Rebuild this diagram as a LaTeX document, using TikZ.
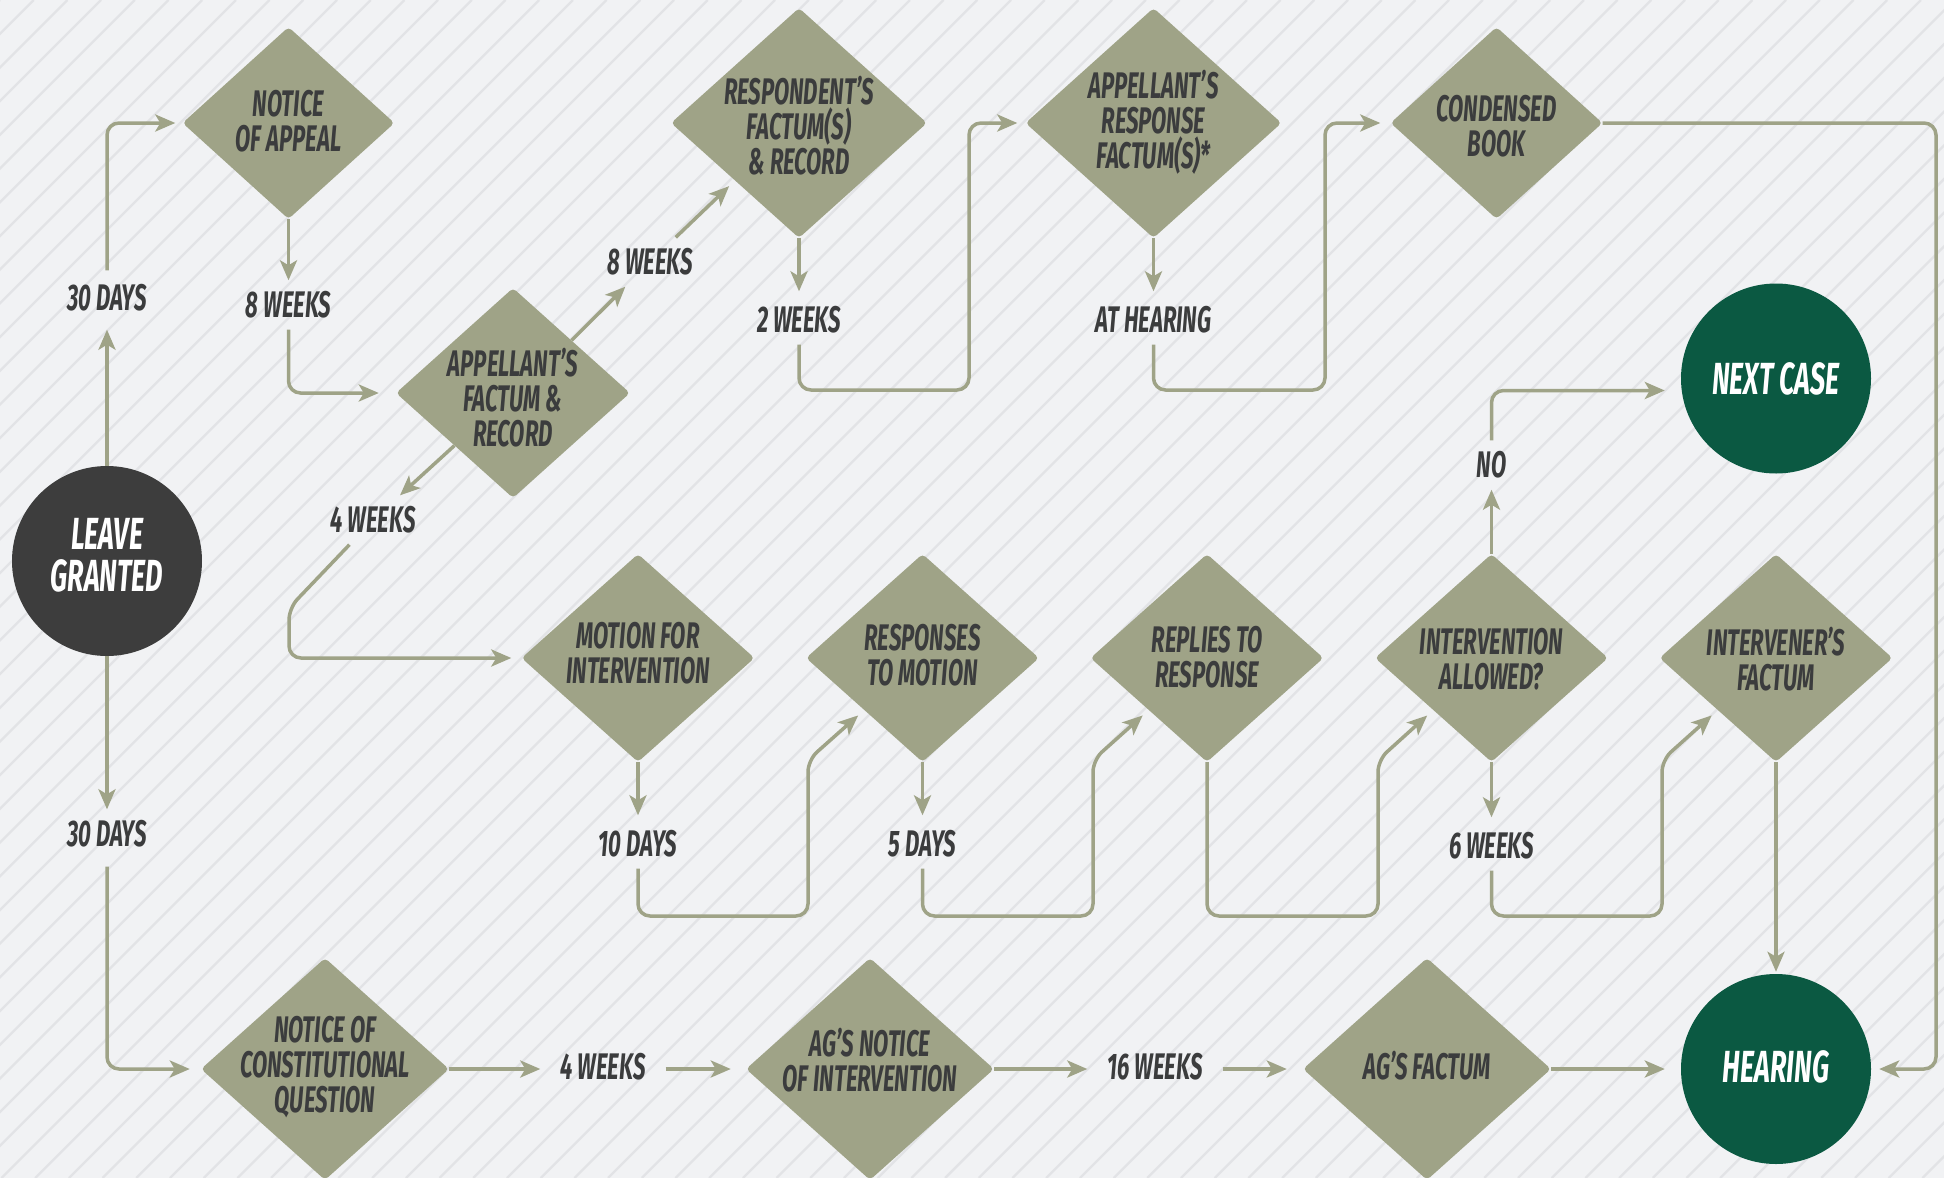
\documentclass[tikz,border=0pt]{standalone}
\usepackage{fontspec}
\newfontfamily\cf{Fira Sans}[FakeStretch=0.6]
\usetikzlibrary{shapes.geometric,arrows.meta,calc}
\definecolor{bgc}{HTML}{F1F2F4}
\definecolor{stripec}{HTML}{E2E3E6}
\definecolor{olive}{HTML}{9FA387}
\definecolor{ink}{HTML}{3B3C3D}
\definecolor{darkc}{HTML}{3D3D3D}
\definecolor{greenc}{HTML}{0B5942}
\begin{document}
\begin{tikzpicture}[x=1pt,y=-1pt,
  dia/.style={diamond, fill=olive, rounded corners=4pt, inner sep=0pt},
  dsm/.style={dia, minimum width=212pt, minimum height=192pt},
  dbig/.style={dia, minimum width=256pt, minimum height=230pt},
  dmid/.style={dia, minimum width=233pt, minimum height=208pt},
  dlow/.style={dia, minimum width=248pt, minimum height=222pt},
  dtxt/.style={font={\cf\bfseries\itshape\fontsize{37pt}{35pt}\selectfont}, text=ink, align=center, inner sep=0pt},
  lbl/.style={font={\cf\bfseries\itshape\fontsize{37pt}{35pt}\selectfont}, text=ink, inner xsep=20pt, inner ysep=12pt, text height=25pt, text depth=0pt},
  disc/.style={circle, minimum size=190pt, inner sep=0pt},
  ctxt/.style={text=white, align=center, inner sep=0pt, font={\cf\bfseries\itshape\fontsize{45pt}{42pt}\selectfont}},
  arr/.style={draw=olive, line width=3.5pt, rounded corners=12pt, -{Stealth[length=20pt, width=17pt, inset=5pt]}}
]
\useasboundingbox (0,0) rectangle (1944,1178);
\begin{scope}
\clip (0,0) rectangle (1944,1178);
\fill[bgc] (0,0) rectangle (1944,1178);
\foreach \k in {0,...,93} {
  \draw[stripec, line width=2.3pt] ({\k*33.7-1178},1178) -- ({\k*33.7},0);
}
\end{scope}

% circles
\node[disc, fill=darkc] (lg) at (107,561) {};
\node[ctxt] (lg-t) at (107,555) {LEAVE\\GRANTED};
\node[disc, fill=greenc] (nc) at (1776,378.5) {};
\node[ctxt] (nc-t) at (1776,378.5) {NEXT CASE};
\node[disc, fill=greenc] (hr) at (1776,1069) {};
\node[ctxt] (hr-t) at (1776,1067) {HEARING};

% top row diamonds
\node[dsm] (na) at (288.5,123) {};
\node[dtxt] (na-t) at (288.5,121) {NOTICE\\OF APPEAL};
\node[dbig] (rf) at (799,123) {};
\node[dtxt] (rf-t) at (799,126) {RESPONDENT’S\\FACTUM(S)\\\& RECORD};
\node[dbig] (ar) at (1153.5,123) {};
\node[dtxt] (ar-t) at (1153.5,122) {APPELLANT’S\\RESPONSE\\FACTUM(S)*};
\node[dsm] (cb) at (1496.5,123) {};
\node[dtxt] (cb-t) at (1496.5,126) {CONDENSED\\BOOK};
\node[dmid, minimum width=234pt, minimum height=210pt] (af) at (513,393) {};
\node[dtxt] (af-t) at (513,398) {APPELLANT’S\\FACTUM \&\\RECORD};

% middle row diamonds
\node[dmid] (mi) at (638,658) {};
\node[dtxt] (mi-t) at (638,653) {MOTION FOR\\INTERVENTION};
\node[dmid] (rm) at (922.5,658) {};
\node[dtxt] (rm-t) at (922.5,655) {RESPONSES\\TO MOTION};
\node[dmid] (rr) at (1207,658) {};
\node[dtxt] (rr-t) at (1207,657) {REPLIES TO\\RESPONSE};
\node[dmid] (ia) at (1491.5,658) {};
\node[dtxt] (ia-t) at (1491.5,659) {INTERVENTION\\ALLOWED?};
\node[dmid] (ifc) at (1776,658) {};
\node[dtxt] (ifc-t) at (1776,659) {INTERVENER’S\\FACTUM};

% bottom row diamonds
\node[dlow] (cq) at (325,1069) {};
\node[dtxt] (cq-t) at (325,1067) {NOTICE OF\\CONSTITUTIONAL\\QUESTION};
\node[dlow] (agn) at (870,1069) {};
\node[dtxt] (agn-t) at (870,1060) {AG’S NOTICE\\OF INTERVENTION};
\node[dlow] (agf) at (1427,1069) {};
\node[dtxt] (agf-t) at (1427,1066) {AG’S FACTUM};

% labels
\node[lbl] (w30a) at (107,298) {30 DAYS};
\node[lbl] (w8a) at (288.5,305) {8 WEEKS};
\node[lbl] (w8b) at (650,262) {8 WEEKS};
\node[lbl] (w4a) at (373,520) {4 WEEKS};
\node[lbl] (w2) at (799,320) {2 WEEKS};
\node[lbl] (wah) at (1153.5,320) {AT HEARING};
\node[lbl] (wno) at (1491.5,465) {NO};
\node[lbl] (w10) at (638,844) {10 DAYS};
\node[lbl] (w5) at (922.5,844) {5 DAYS};
\node[lbl] (w6) at (1491.5,846) {6 WEEKS};
\node[lbl] (w30b) at (107,834) {30 DAYS};
\node[lbl] (w4b) at (603,1067) {4 WEEKS};
\node[lbl] (w16) at (1155,1067) {16 WEEKS};

% connectors: top
\draw[arr, shorten >=7pt] (lg.north) -- (w30a.south);
\draw[arr, shorten >=7pt, shorten <=3pt] (w30a.north) |- (na.west);
\draw[arr] (na.south) -- (w8a.north);
\draw[arr, shorten >=17pt] (w8a.south) |- (af.west);
\draw[arr] (af.north east) -- (w8b);
\draw[arr, shorten >=8pt] (w8b) -- (rf.south west);
\draw[arr] (af.south west) -- (w4a);
\draw[arr, shorten >=10pt] (w4a) -- (289,608) |- (mi.west);
\draw[arr, shorten >=4pt] (rf.south) -- (w2.north);
\draw[arr, shorten >=8pt] (w2.south) |- (969,390) |- (ar.west);
\draw[arr, shorten >=4pt] (ar.south) -- (wah.north);
\draw[arr, shorten >=10pt] (wah.south) |- (1325,390) |- (cb.west);
\draw[arr, shorten >=8pt] (cb.east) -| (1936,1069) -- (hr.east);

% connectors: middle
\draw[arr, shorten >=4pt] (mi.south) -- (w10.north);
\draw[arr, shorten >=8pt] (w10.south) |- (808,916) -- (808,760) -- (rm.south west);
\draw[arr, shorten >=4pt] (rm.south) -- (w5.north);
\draw[arr, shorten >=8pt] (w5.south) |- (1093,916) -- (1093,760) -- (rr.south west);
\draw[arr, shorten >=8pt] (rr.south) |- (1378,916) -- (1378,760) -- (ia.south west);
\draw[arr, shorten >=4pt] (ia.south) -- (w6.north);
\draw[arr, shorten >=8pt] (w6.south) |- (1662,916) -- (1662,760) -- (ifc.south west);
\draw[arr] (ia.north) -- (wno.south);
\draw[arr, shorten >=16pt] (wno.north) |- ($(nc.west)+(0,12)$);
\draw[arr, shorten >=2pt] (ifc.south) -- (hr.north);

% connectors: bottom
\draw[arr] (lg.south) -- (w30b.north);
\draw[arr, shorten >=11pt, shorten <=8pt] (w30b.south) |- (cq.west);
\draw[arr] (cq.east) -- (cq.east -| w4b.west);
\draw[arr, shorten >=15pt] (w4b.east |- agn.west) -- (agn.west);
\draw[arr] (agn.east) -- (agn.east -| w16.west);
\draw[arr, shorten >=16pt] (w16.east |- agf.west) -- (agf.west);
\draw[arr, shorten >=16pt] (agf.east) -- (hr.west);
\end{tikzpicture}
\end{document}
